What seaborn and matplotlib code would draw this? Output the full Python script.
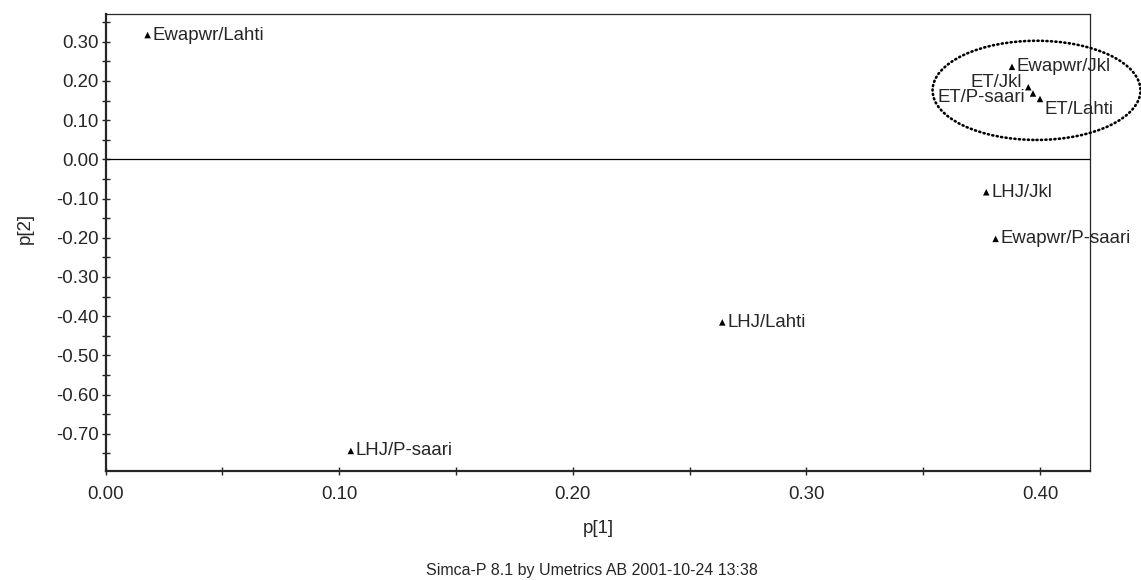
import numpy as np
import pandas as pd
import seaborn as sns
import matplotlib
matplotlib.use("Agg")
from matplotlib import pyplot as plt
from matplotlib.patches import Ellipse
from matplotlib.ticker import MultipleLocator, FormatStrFormatter

## Simca-P loading plot p[1] vs p[2]
labels = ['Ewapwr/Lahti', 'LHJ/P-saari', 'LHJ/Lahti', 'LHJ/Jkl', 'Ewapwr/P-saari',
          'Ewapwr/Jkl', 'ET/Jkl', 'ET/P-saari', 'ET/Lahti']
p1 = [0.018, 0.105, 0.264, 0.377, 0.381, 0.388, 0.395, 0.397, 0.400]
p2 = [0.317, -0.744, -0.416, -0.084, -0.203, 0.236, 0.184, 0.168, 0.154]

# label offsets in pixels (dx, dy, ha)
offsets = {'ET/Jkl': (-6, 5, 'right'),
           'ET/P-saari': (-8, -4, 'right'),
           'ET/Lahti': (5, -11, 'left')}

df = pd.DataFrame({'p1': p1, 'p2': p2, 'label': labels})

sns.set_style("ticks")
plt.rcParams['font.family'] = ['Liberation Sans', 'DejaVu Sans']

fig = plt.figure(figsize=(11.41, 5.80), dpi=100)
ax = fig.add_axes([0.0925, 0.188, 0.863, 0.788])

sns.scatterplot(data=df, x='p1', y='p2', marker='^', color='black', s=22,
                edgecolor='none', ax=ax, zorder=3)

for lab, x, y in zip(labels, p1, p2):
    dx, dy, ha = offsets.get(lab, (5, 0, 'left'))
    ax.annotate(lab, (x, y), xytext=(dx, dy), textcoords='offset pixels',
                ha=ha, va='center', fontsize=13.4)

ax.axhline(0, color='black', lw=0.9, zorder=1)

# dotted ellipse round the ET cluster
ell = Ellipse((0.3985, 0.176), width=0.0890, height=0.253, fill=False,
              edgecolor='black', lw=1.9, linestyle=(0, (0.4, 1.3)),
              capstyle='round', clip_on=False, zorder=4)
ax.add_patch(ell)

ax.set_xlim(0, 0.4215)
ax.set_ylim(-0.795, 0.371)
ax.xaxis.set_major_locator(MultipleLocator(0.1))
ax.xaxis.set_minor_locator(MultipleLocator(0.05))
ax.yaxis.set_major_locator(MultipleLocator(0.1))
ax.yaxis.set_minor_locator(MultipleLocator(0.05))
ax.xaxis.set_major_formatter(FormatStrFormatter('%.2f'))
ax.yaxis.set_major_formatter(FormatStrFormatter('%.2f'))
ax.tick_params(which='both', direction='inout', length=6, width=1, labelsize=13.4)
ax.tick_params(axis='y', pad=2)
ax.tick_params(axis='x', pad=8)

for side in ['left', 'bottom']:
    ax.spines[side].set_linewidth(1.6)
for side in ['top', 'right']:
    ax.spines[side].set_linewidth(0.9)

ax.set_xlabel('p[1]', fontsize=13.4, labelpad=12)
ax.set_ylabel('p[2]', fontsize=13.4)
ax.yaxis.set_label_coords(-0.073, 0.53)

fig.text(0.519, 0.003, 'Simca-P 8.1 by Umetrics AB 2001-10-24 13:38', ha='center',
         va='bottom', fontsize=11.5)

fig.savefig('out.png', dpi=100)
